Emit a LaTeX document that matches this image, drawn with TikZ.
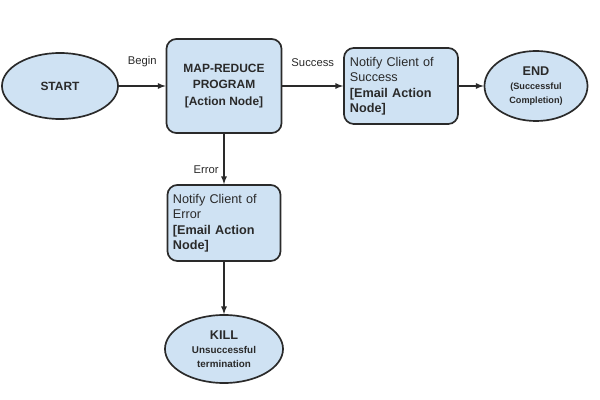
\documentclass[tikz,border=0pt]{standalone}
\usepackage{fontspec}
\setmainfont{Liberation Sans}
\usetikzlibrary{shapes.geometric,positioning,arrows.meta,arrows}
\definecolor{boxfill}{HTML}{CFE2F3}
\definecolor{boxline}{HTML}{2A2A2A}
\tikzset{
termnode/.style={
  ellipse,
  draw=boxline,
  fill=boxfill,
  line width=1.2pt,
  inner sep=0pt,
  align=center,
  text=boxline,
  font=\bfseries\fontsize{8.5}{10}\selectfont
  },
actnode/.style={
  rectangle,
  rounded corners=7pt,
  draw=boxline,
  fill=boxfill,
  line width=1.2pt,
  inner sep=0pt,
  align=center,
  text=boxline
  },
mailnode/.style={
  actnode,
  align=left,
  text width=2.55cm,
  font=\fontsize{9}{11}\selectfont
  },
flow/.style={->, line width=0.9pt, draw=boxline},
lbl/.style={font=\fontsize{8}{9.5}\selectfont, text=boxline}
}

\begin{document}
\begin{tikzpicture}[>=latex, x=0.025cm, y=-0.025cm]
\useasboundingbox (0,0) rectangle (600,400);

\node[termnode, minimum width=2.9cm, minimum height=1.65cm]
  (start) at (60,86) {START};
\node[actnode, minimum width=2.875cm, minimum height=2.35cm,
  font=\bfseries\fontsize{8.5}{12}\selectfont]
  (mapred) at (224,86) {MAP-REDUCE\\PROGRAM\\{[Action Node]}};
\node[mailnode, minimum width=2.85cm, minimum height=1.9cm]
  (mailok) at (401,86)
  {Notify Client of\\Success\\\textbf{[Email Action}\\\textbf{Node]}};
\node[termnode, minimum width=2.575cm, minimum height=1.75cm]
  (finish) at (536,86)
  {\fontsize{9}{10}\selectfont END\\\fontsize{6.5}{8}\selectfont(Successful\\\fontsize{6.5}{8}\selectfont Completion)};
\node[mailnode, minimum width=2.825cm, minimum height=1.9cm]
  (mailerr) at (224,223)
  {Notify Client of\\Error\\\textbf{[Email Action}\\\textbf{Node]}};
\node[termnode, minimum width=2.95cm, minimum height=1.7cm]
  (kill) at (224,349)
  {\fontsize{9}{11}\selectfont KILL\\\fontsize{7}{8.5}\selectfont Unsuccessful\\\fontsize{7}{8.5}\selectfont termination};

\draw[flow] (start) -- node[lbl, above=10pt] {Begin} (mapred);
\draw[flow] (mapred) -- node[lbl, above=10pt] {Success} (mailok);
\draw[flow] (mailok) -- (finish);
\draw[flow] (mapred) -- node[lbl, left=0pt, pos=0.72] {Error} (mailerr);
\draw[flow] (mailerr) -- (kill);

\end{tikzpicture}
\end{document}
